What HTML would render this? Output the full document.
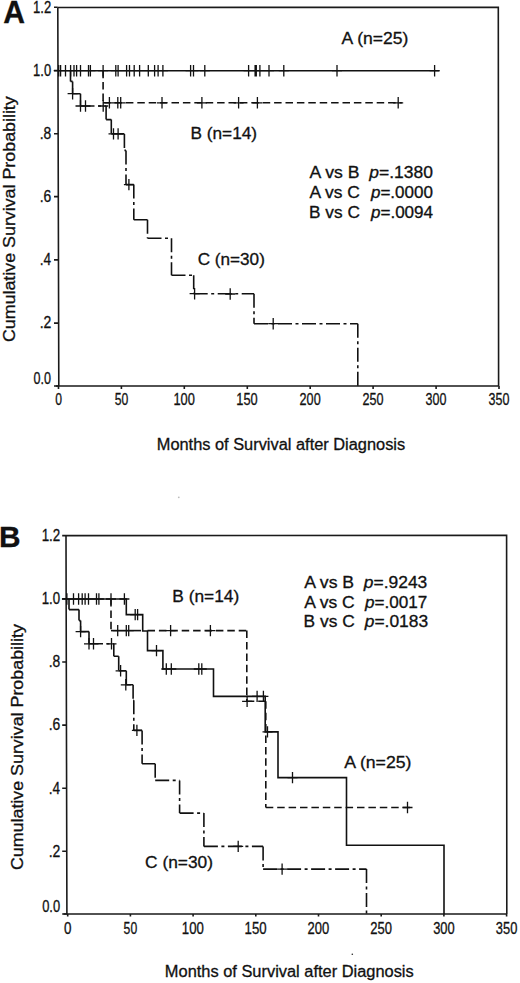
<!DOCTYPE html>
<html><head><meta charset="utf-8"><style>
html,body{margin:0;padding:0;background:#fff;overflow:hidden;width:520px;height:983px;}
svg{display:block;}
text{font-family:"Liberation Sans",sans-serif;fill:#111;stroke:#111;stroke-width:0.3px;}
.ax{fill:none;stroke:#1a1a1a;stroke-width:1.6;}
.sA{fill:none;stroke:#111;stroke-width:1.6;}
.sB{fill:none;stroke:#111;stroke-width:1.6;stroke-dasharray:7.5 3.9;}
.sC{fill:none;stroke:#111;stroke-width:1.6;stroke-dasharray:14 3.5 3 3.5;}
.mk{fill:none;stroke:#111;stroke-width:1.3;}
</style></head><body>
<svg width="520" height="983" viewBox="0 0 520 983">
<path class="ax" d="M57.8,7.5 L498.3,7.3 L498.6,386 M58.8,386 L57.8,7.5 M55.8,386 L498.6,386"/>
<path class="ax" d="M54.0,7.3 H57.7 M54.0,70.6 H57.9 M54.0,133.8 H58.1 M54.0,196.6 H58.2 M54.0,259.9 H58.4 M54.0,323.1 H58.6 M54.0,386.0 H58.8"/>
<path class="ax" d="M58.5,386 V389 M121.4,386 V389 M184.3,386 V389 M247.3,386 V389 M310.2,386 V389 M373.1,386 V389 M436.1,386 V389 M499.0,386 V389"/>
<text x="33.11" y="12.65" font-size="16" textLength="18.15" lengthAdjust="spacingAndGlyphs">1.2</text>
<text x="33.12" y="75.95" font-size="16" textLength="17.99" lengthAdjust="spacingAndGlyphs">1.0</text>
<text x="39.64" y="139.15" font-size="16" textLength="11.56" lengthAdjust="spacingAndGlyphs">.8</text>
<text x="39.64" y="201.95" font-size="16" textLength="11.57" lengthAdjust="spacingAndGlyphs">.6</text>
<text x="39.66" y="265.25" font-size="16" textLength="11.33" lengthAdjust="spacingAndGlyphs">.4</text>
<text x="39.63" y="328.45" font-size="16" textLength="11.67" lengthAdjust="spacingAndGlyphs">.2</text>
<text x="33.61" y="384.15" font-size="16" textLength="17.48" lengthAdjust="spacingAndGlyphs">0.0</text>
<text x="55.13" y="405.10" font-size="16" textLength="6.75" lengthAdjust="spacingAndGlyphs">0</text>
<text x="114.64" y="405.10" font-size="16" textLength="13.57" lengthAdjust="spacingAndGlyphs">50</text>
<text x="173.43" y="405.10" font-size="16" textLength="21.38" lengthAdjust="spacingAndGlyphs">100</text>
<text x="236.35" y="405.10" font-size="16" textLength="21.38" lengthAdjust="spacingAndGlyphs">150</text>
<text x="299.62" y="405.10" font-size="16" textLength="21.03" lengthAdjust="spacingAndGlyphs">200</text>
<text x="362.54" y="405.10" font-size="16" textLength="21.03" lengthAdjust="spacingAndGlyphs">250</text>
<text x="425.62" y="405.10" font-size="16" textLength="20.87" lengthAdjust="spacingAndGlyphs">300</text>
<text x="488.55" y="405.10" font-size="16" textLength="20.87" lengthAdjust="spacingAndGlyphs">350</text>
<text x="3.25" y="22.50" font-size="30.5" font-weight="bold" textLength="21.74" lengthAdjust="spacingAndGlyphs">A</text>
<text transform="rotate(-90)" x="-342.11" y="15.40" font-size="16" textLength="245.85" lengthAdjust="spacingAndGlyphs">Cumulative Survival Probability</text>
<text x="156.76" y="449.50" font-size="16" textLength="248.44" lengthAdjust="spacingAndGlyphs">Months of Survival after Diagnosis</text>
<text x="341.56" y="43.60" font-size="16" textLength="66.72" lengthAdjust="spacingAndGlyphs">A (n=25)</text>
<text x="190.49" y="139.20" font-size="16" textLength="66.59" lengthAdjust="spacingAndGlyphs">B (n=14)</text>
<text x="197.73" y="264.80" font-size="16" textLength="67.14" lengthAdjust="spacingAndGlyphs">C (n=30)</text>
<text x="309.46" y="178.20" font-size="16" textLength="49.98" lengthAdjust="spacingAndGlyphs">A vs B</text>
<text x="369.34" y="178.20" font-size="16" textLength="63.66" lengthAdjust="spacingAndGlyphs"><tspan font-style="italic">p</tspan>=.1380</text>
<text x="309.47" y="198.20" font-size="16" textLength="50.41" lengthAdjust="spacingAndGlyphs">A vs C</text>
<text x="370.93" y="198.20" font-size="16" textLength="62.05" lengthAdjust="spacingAndGlyphs"><tspan font-style="italic">p</tspan>=.0000</text>
<text x="309.09" y="217.70" font-size="16" textLength="50.77" lengthAdjust="spacingAndGlyphs">B vs C</text>
<text x="370.93" y="217.70" font-size="16" textLength="62.18" lengthAdjust="spacingAndGlyphs"><tspan font-style="italic">p</tspan>=.0094</text>
<path class="sA" d="M58.0,70.7 L439.4,70.7"/>
<path class="mk" d="M53.7,70.7 h10 M58.7,65.0 v11.4 M55.6,70.7 h10 M60.6,65.0 v11.4 M60.5,70.7 h10 M65.5,65.0 v11.4 M65.6,70.7 h10 M70.6,65.0 v11.4 M69.0,70.7 h10 M74.0,65.0 v11.4 M71.6,70.7 h10 M76.6,65.0 v11.4 M75.5,70.7 h10 M80.5,65.0 v11.4 M83.5,70.7 h10 M88.5,65.0 v11.4 M85.4,70.7 h10 M90.4,65.0 v11.4 M98.1,70.7 h10 M103.1,65.0 v11.4 M110.8,70.7 h10 M115.8,65.0 v11.4 M113.1,70.7 h10 M118.1,65.0 v11.4 M121.6,70.7 h10 M126.6,65.0 v11.4 M124.5,70.7 h10 M129.5,65.0 v11.4 M129.2,70.7 h10 M134.2,65.0 v11.4 M134.6,70.7 h10 M139.6,65.0 v11.4 M143.3,70.7 h10 M148.3,65.0 v11.4 M149.6,70.7 h10 M154.6,65.0 v11.4 M153.1,70.7 h10 M158.1,65.0 v11.4 M157.9,70.7 h10 M162.9,65.0 v11.4 M185.6,70.7 h10 M190.6,65.0 v11.4 M188.5,70.7 h10 M193.5,65.0 v11.4 M199.8,70.7 h10 M204.8,65.0 v11.4 M243.6,70.7 h10 M248.6,65.0 v11.4 M250.1,70.7 h10 M255.1,65.0 v11.4 M251.3,70.7 h10 M256.3,65.0 v11.4 M254.9,70.7 h10 M259.9,65.0 v11.4 M264.0,70.7 h10 M269.0,65.0 v11.4 M278.8,70.7 h10 M283.8,65.0 v11.4 M332.0,70.7 h10 M337.0,65.0 v11.4 M429.6,70.7 h10 M434.6,65.0 v11.4"/>
<path class="sB" d="M103.1,70.7 L103.1,102.8 M103.1,102.8 L401.9,102.8"/>
<path class="mk" d="M104.4,102.8 h10 M109.4,97.1 v11.4 M112.8,102.8 h10 M117.8,97.1 v11.4 M115.7,102.8 h10 M120.7,97.1 v11.4 M157.0,102.8 h10 M162.0,97.1 v11.4 M196.9,102.8 h10 M201.9,97.1 v11.4 M233.6,102.8 h10 M238.6,97.1 v11.4 M252.4,102.8 h10 M257.4,97.1 v11.4 M393.2,102.8 h10 M398.2,97.1 v11.4"/>
<path class="sC" d="M70.5,70.7 L70.5,81.4 M70.5,81.4 L72.6,81.4 M72.6,81.4 L72.6,93.7 M72.6,93.7 L80.5,93.7 M80.5,93.7 L80.5,106.0 M80.5,106.0 L106.1,106.0 M106.1,106.0 L106.1,119.6 M106.1,119.6 L111.3,119.6 M111.3,119.6 L111.3,133.9 M111.3,133.9 L124.4,133.9 M124.4,133.9 L124.4,150.4 M124.4,150.4 L126.0,150.4 M126.0,150.4 L126.0,184.6 M126.0,184.6 L133.8,184.6 M133.8,184.6 L133.8,219.8 M133.8,219.8 L147.5,219.8 M147.5,219.8 L147.5,238.3 M147.5,238.3 L171.5,238.3 M171.5,238.3 L171.5,275.2 M171.5,275.2 L193.7,275.2 M193.7,275.2 L193.7,293.7 M193.7,293.7 L254.0,293.7 M254.0,293.7 L254.0,323.7 M254.0,323.7 L357.8,323.7 M357.8,323.7 L357.8,386.0"/>
<path class="mk" d="M67.6,93.7 h10 M72.6,88.0 v11.4 M75.5,106.0 h10 M80.5,100.3 v11.4 M80.5,106.0 h10 M85.5,100.3 v11.4 M98.2,106.0 h10 M103.2,100.3 v11.4 M108.5,133.9 h10 M113.5,128.2 v11.4 M113.1,133.9 h10 M118.1,128.2 v11.4 M123.9,184.6 h10 M128.9,178.9 v11.4 M189.6,293.7 h10 M194.6,288.0 v11.4 M225.2,294.0 h10 M230.2,288.3 v11.4 M268.2,323.7 h10 M273.2,318.0 v11.4"/>
<path class="ax" d="M66.0,535.6 L506.6,535.3 L506.8,914 M66.9,914 L66.0,535.6 M63.5,914 L506.8,914"/>
<path class="ax" d="M62.2,535.6 H66.0 M62.2,598.9 H66.2 M62.2,662.0 H66.3 M62.2,725.1 H66.5 M62.2,788.2 H66.6 M62.2,851.3 H66.8 M62.2,914.0 H66.9"/>
<path class="ax" d="M67.7,914 V916.5 M130.4,914 V916.5 M193.1,914 V916.5 M255.8,914 V916.5 M318.5,914 V916.5 M381.2,914 V916.5 M443.9,914 V916.5 M506.6,914 V916.5"/>
<text x="41.68" y="540.95" font-size="16" textLength="18.59" lengthAdjust="spacingAndGlyphs">1.2</text>
<text x="41.69" y="604.25" font-size="16" textLength="18.43" lengthAdjust="spacingAndGlyphs">1.0</text>
<text x="48.64" y="667.35" font-size="16" textLength="11.56" lengthAdjust="spacingAndGlyphs">.8</text>
<text x="48.64" y="730.45" font-size="16" textLength="11.57" lengthAdjust="spacingAndGlyphs">.6</text>
<text x="48.66" y="793.55" font-size="16" textLength="11.33" lengthAdjust="spacingAndGlyphs">.4</text>
<text x="48.63" y="856.65" font-size="16" textLength="11.67" lengthAdjust="spacingAndGlyphs">.2</text>
<text x="42.20" y="912.05" font-size="16" textLength="17.91" lengthAdjust="spacingAndGlyphs">0.0</text>
<text x="63.98" y="933.90" font-size="16" textLength="7.45" lengthAdjust="spacingAndGlyphs">0</text>
<text x="123.61" y="933.90" font-size="16" textLength="13.57" lengthAdjust="spacingAndGlyphs">50</text>
<text x="181.85" y="933.90" font-size="16" textLength="22.02" lengthAdjust="spacingAndGlyphs">100</text>
<text x="244.55" y="933.90" font-size="16" textLength="22.02" lengthAdjust="spacingAndGlyphs">150</text>
<text x="307.60" y="933.90" font-size="16" textLength="21.66" lengthAdjust="spacingAndGlyphs">200</text>
<text x="370.30" y="933.90" font-size="16" textLength="21.66" lengthAdjust="spacingAndGlyphs">250</text>
<text x="433.16" y="933.90" font-size="16" textLength="21.50" lengthAdjust="spacingAndGlyphs">300</text>
<text x="495.86" y="933.90" font-size="16" textLength="21.50" lengthAdjust="spacingAndGlyphs">350</text>
<text x="-1.00" y="547.10" font-size="29.5" font-weight="bold" textLength="21.55" lengthAdjust="spacingAndGlyphs">B</text>
<text transform="rotate(-90)" x="-870.11" y="23.00" font-size="16" textLength="245.95" lengthAdjust="spacingAndGlyphs">Cumulative Survival Probability</text>
<text x="164.86" y="977.00" font-size="16" textLength="248.84" lengthAdjust="spacingAndGlyphs">Months of Survival after Diagnosis</text>
<text x="172.28" y="601.70" font-size="16" textLength="66.90" lengthAdjust="spacingAndGlyphs">B (n=14)</text>
<text x="344.16" y="768.20" font-size="16" textLength="67.33" lengthAdjust="spacingAndGlyphs">A (n=25)</text>
<text x="145.12" y="868.10" font-size="16" textLength="67.87" lengthAdjust="spacingAndGlyphs">C (n=30)</text>
<text x="304.16" y="587.70" font-size="16" textLength="49.98" lengthAdjust="spacingAndGlyphs">A vs B</text>
<text x="363.84" y="587.70" font-size="16" textLength="63.44" lengthAdjust="spacingAndGlyphs"><tspan font-style="italic">p</tspan>=.9243</text>
<text x="304.17" y="607.70" font-size="16" textLength="50.51" lengthAdjust="spacingAndGlyphs">A vs C</text>
<text x="365.03" y="607.70" font-size="16" textLength="62.34" lengthAdjust="spacingAndGlyphs"><tspan font-style="italic">p</tspan>=.0017</text>
<text x="303.58" y="627.20" font-size="16" textLength="51.08" lengthAdjust="spacingAndGlyphs">B vs C</text>
<text x="364.74" y="627.20" font-size="16" textLength="63.44" lengthAdjust="spacingAndGlyphs"><tspan font-style="italic">p</tspan>=.0183</text>
<path class="sA" d="M66.5,599.0 L126.3,599.0 L126.3,614.6 L142.7,614.6 L142.7,631.0 L147.5,631.0 L147.5,650.6 L162.9,650.6 L162.9,669.0 L213.5,669.0 L213.5,696.4 L265.2,696.4 L265.2,731.9 L278.0,731.9 L278.0,777.6 L346.5,777.6 L346.5,845.3 L444.0,845.3 L444.0,914.0"/>
<path class="mk" d="M61.9,599.0 h10 M66.9,593.3 v11.4 M68.5,599.0 h10 M73.5,593.3 v11.4 M73.6,599.0 h10 M78.6,593.3 v11.4 M77.2,599.0 h10 M82.2,593.3 v11.4 M80.1,599.0 h10 M85.1,593.3 v11.4 M83.5,599.0 h10 M88.5,593.3 v11.4 M91.5,599.0 h10 M96.5,593.3 v11.4 M93.9,599.0 h10 M98.9,593.3 v11.4 M106.0,599.0 h10 M111.0,593.3 v11.4 M119.4,599.0 h10 M124.4,593.3 v11.4"/>
<path class="mk" d="M130.2,614.6 h10 M135.2,608.9 v11.4 M132.6,614.6 h10 M137.6,608.9 v11.4 M151.5,650.6 h10 M156.5,644.9 v11.4 M161.3,669.0 h10 M166.3,663.3 v11.4 M166.3,669.0 h10 M171.3,663.3 v11.4 M193.8,669.0 h10 M198.8,663.3 v11.4 M196.8,669.0 h10 M201.8,663.3 v11.4 M252.1,696.4 h10 M257.1,690.7 v11.4 M258.4,696.4 h10 M263.4,690.7 v11.4 M262.5,731.9 h10 M267.5,726.2 v11.4 M287.5,777.6 h10 M292.5,771.9 v11.4"/>
<path class="sB" d="M111.0,599.0 L111.0,630.6"/>
<path class="sA" d="M111.0,630.6 L141.0,630.6"/>
<path class="sB" d="M147.5,630.6 L246.8,630.6 M246.8,630.6 L246.8,701.3 M246.8,701.3 L265.8,701.3 M265.8,701.3 L265.8,807.5 M265.8,807.5 L410.0,807.5"/>
<path class="mk" d="M112.7,630.6 h10 M117.7,624.9 v11.4 M121.3,630.6 h10 M126.3,624.9 v11.4 M123.7,630.6 h10 M128.7,624.9 v11.4 M165.6,630.6 h10 M170.6,624.9 v11.4 M205.4,630.6 h10 M210.4,624.9 v11.4 M242.1,701.3 h10 M247.1,695.6 v11.4 M402.5,807.5 h10 M407.5,801.8 v11.4"/>
<path class="sC" d="M69.0,599.0 L69.0,599.0 M69.0,599.0 L69.0,609.6 M69.0,609.6 L79.0,609.6 M79.0,609.6 L79.0,620.6 M79.0,620.6 L80.6,620.6 M80.6,620.6 L80.6,631.6 M80.6,631.6 L89.0,631.6 M89.0,631.6 L89.0,643.8 M89.0,643.8 L113.8,643.8 M113.8,643.8 L113.8,656.3 M113.8,656.3 L118.7,656.3 M118.7,656.3 L118.7,670.8 M118.7,670.8 L126.3,670.8 M126.3,670.8 L126.3,684.8 M126.3,684.8 L133.1,684.8 M133.1,684.8 L133.1,700.2 M133.1,700.2 L133.8,700.2 M133.8,700.2 L133.8,730.4 M133.8,730.4 L142.1,730.4 M142.1,730.4 L142.1,763.7 M142.1,763.7 L155.2,763.7 M155.2,763.7 L155.2,780.4 M155.2,780.4 L179.6,780.4 M179.6,780.4 L179.6,813.1 M179.6,813.1 L203.9,813.1 M203.9,813.1 L203.9,846.4 M203.9,846.4 L263.1,846.4 M263.1,846.4 L263.1,869.1 M263.1,869.1 L366.5,869.1 M366.5,869.1 L366.5,914.0"/>
<path class="mk" d="M75.6,631.6 h10 M80.6,625.9 v11.4 M84.0,643.8 h10 M89.0,638.1 v11.4 M88.5,643.8 h10 M93.5,638.1 v11.4 M106.5,643.8 h10 M111.5,638.1 v11.4 M115.6,670.8 h10 M120.6,665.1 v11.4 M120.8,684.8 h10 M125.8,679.1 v11.4 M131.9,730.4 h10 M136.9,724.7 v11.4 M233.2,846.4 h10 M238.2,840.7 v11.4 M277.1,869.1 h10 M282.1,863.4 v11.4"/>
<circle cx="352.3" cy="954.2" r="0.8" fill="#222"/><circle cx="178.8" cy="497.3" r="0.9" fill="#bbb"/>
</svg>
</body></html>
